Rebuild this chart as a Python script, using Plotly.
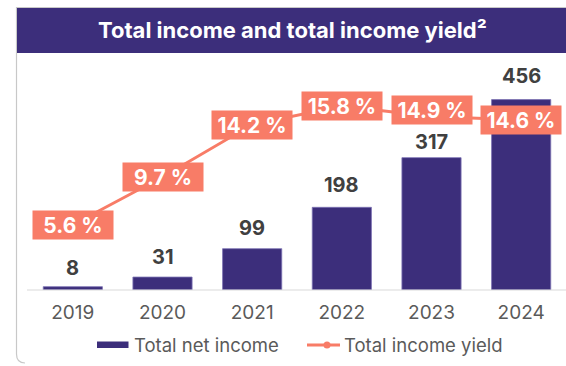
import plotly.graph_objects as go

# Data
years = ["2019", "2020", "2021", "2022", "2023", "2024"]
net_income = [8, 31, 99, 198, 317, 456]
income_yield = [5.6, 9.7, 14.2, 15.8, 14.9, 14.6]
yield_labels = ["5.6 %", "9.7 %", "14.2 %", "15.8 %", "14.9 %", "14.6 %"]

title_text = "Total income and total income yield²"
bar_name = "Total net income"
line_name = "Total income yield"

# Styling
W, H = 566, 366
ML, MR, MT, MB = 28, 0, 57, 76
PURPLE = "#3C2E7B"
SALMON = "#F87C67"
GREY_TXT = "#5A5A5A"
FONT = "Inter"
yield_label_shift = [0, 0, 0, 0, 6, 0]
value_label_gap = [9, 10, 11, 12, 6, 14]

PW = W - ML - MR
PH = H - MT - MB


def px_x(px):
    return (px - ML) / PW


def px_y(py):
    return (H - MB - py) / PH


fig = go.Figure()

fig.add_trace(go.Bar(
    x=years, y=net_income, name=bar_name,
    marker=dict(color=PURPLE, line=dict(color="#7C72B4", width=0.8)),
    width=0.66, showlegend=False, hoverinfo="skip",
))

fig.add_trace(go.Scatter(
    x=years, y=income_yield, name=line_name, yaxis="y2",
    mode="lines+markers",
    line=dict(color=SALMON, width=3),
    marker=dict(color=SALMON, size=7),
    cliponaxis=False, showlegend=False, hoverinfo="skip",
))

annotations = []

# Bar value labels
for i, (val, gap) in enumerate(zip(net_income, value_label_gap)):
    annotations.append(dict(
        x=i, y=val, xref="x", yref="y", text=str(val), showarrow=False,
        font=dict(family=FONT, size=20, color="#404040", weight="bold"),
        xanchor="center", yanchor="bottom", yshift=gap - 4,
    ))

# Yield labels on salmon boxes
for i, (val, lab, dy) in enumerate(zip(income_yield, yield_labels, yield_label_shift)):
    annotations.append(dict(
        x=i, y=val, xref="x", yref="y2", text=lab, showarrow=False,
        font=dict(family=FONT, size=21, color="white", weight="bold"),
        bgcolor=SALMON, borderpad=1, width=78, height=26,
        xanchor="center", yanchor="middle", yshift=dy,
    ))

# Title text on the header band
annotations.append(dict(
    x=px_x(292), y=px_y(30), xref="paper", yref="paper", text=title_text,
    showarrow=False, xanchor="center", yanchor="middle",
    font=dict(family=FONT, size=22, color="white", weight="bold"),
))

# Legend labels
annotations.append(dict(
    x=px_x(132), y=px_y(345), xref="paper", yref="paper", text=bar_name,
    showarrow=False, xanchor="left", yanchor="middle",
    font=dict(family=FONT, size=18.5, color=GREY_TXT),
))
annotations.append(dict(
    x=px_x(342), y=px_y(345), xref="paper", yref="paper", text=line_name,
    showarrow=False, xanchor="left", yanchor="middle",
    font=dict(family=FONT, size=18.5, color=GREY_TXT),
))

shapes = [
    # card outline with rounded lower-left corner
    dict(type="path", xref="paper", yref="paper",
         path=(f"M {px_x(566)},{px_y(7.5)} L {px_x(16.5)},{px_y(7.5)} "
               f"L {px_x(16.5)},{px_y(354)} Q {px_x(16.5)},{px_y(363)} {px_x(25)},{px_y(363)}"),
         line=dict(color="#C8C8C8", width=1.2), layer="below"),
    # header band
    dict(type="rect", xref="paper", yref="paper",
         x0=px_x(17), x1=px_x(566), y0=px_y(8), y1=px_y(53),
         fillcolor=PURPLE, line=dict(width=0), layer="below"),
    # baseline
    dict(type="line", xref="paper", yref="paper",
         x0=px_x(27), x1=px_x(566), y0=0, y1=0,
         line=dict(color="#D9D9D9", width=1.2)),
    # legend swatches
    dict(type="rect", xref="paper", yref="paper",
         x0=px_x(97), x1=px_x(128.5), y0=px_y(341.5), y1=px_y(348),
         fillcolor=PURPLE, line=dict(width=0)),
    dict(type="line", xref="paper", yref="paper",
         x0=px_x(307), x1=px_x(340), y0=px_y(345), y1=px_y(345),
         line=dict(color=SALMON, width=3)),
    dict(type="circle", xref="paper", yref="paper",
         x0=px_x(323.5), x1=px_x(330.5), y0=px_y(341.5), y1=px_y(348.5),
         fillcolor=SALMON, line=dict(width=0)),
]

fig.update_layout(
    width=W, height=H,
    margin=dict(l=ML, r=MR, t=MT, b=MB, pad=0),
    paper_bgcolor="white", plot_bgcolor="white",
    font=dict(family=FONT),
    xaxis=dict(
        type="category", range=[-0.5, 5.5], showgrid=False, showline=False,
        zeroline=False, ticks="", fixedrange=True, ticklabelstandoff=9,
        tickfont=dict(family=FONT, size=19, color=GREY_TXT),
    ),
    yaxis=dict(range=[0, 558], visible=False, fixedrange=True),
    yaxis2=dict(range=[0, 20], visible=False, overlaying="y", side="right",
                fixedrange=True),
    annotations=annotations,
    shapes=shapes,
    showlegend=False,
)

fig.write_html("out.html")
